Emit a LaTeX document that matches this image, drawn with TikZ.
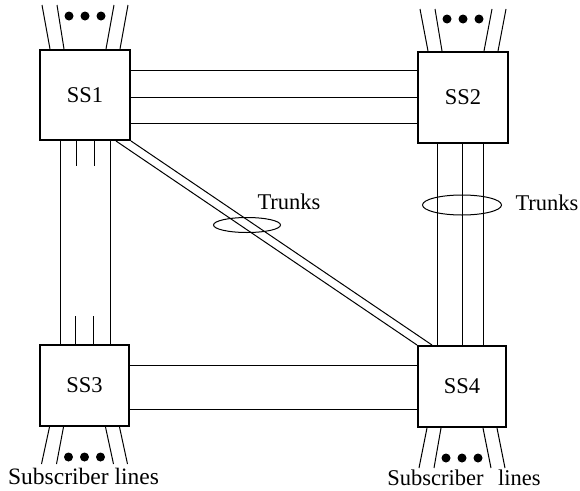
\documentclass[tikz,border=0pt]{standalone}
\usepackage{fontspec}
\setmainfont{Liberation Serif}
\usetikzlibrary{shapes.geometric}

\begin{document}
\begin{tikzpicture}[x=1pt, y=-1pt, line width=1pt,
  every node/.style={font=\fontsize{22.5}{26}\selectfont},
  switch/.style={draw, line width=2pt, inner sep=0pt},
  bundle/.style={draw, ellipse, inner sep=0pt, line width=1pt},
  caption/.style={inner sep=0pt}]
  \useasboundingbox (0,0) rectangle (580,490);
  % switching systems
  \node[switch, minimum width=90pt, minimum height=90pt] (ss1) at (85,95) {SS1};
  \node[switch, minimum width=90pt, minimum height=91pt] (ss2) at (463,97.5) {SS2};
  \node[switch, minimum width=89pt, minimum height=81pt] (ss3) at (84.5,385.5) {SS3};
  \node[switch, minimum width=88pt, minimum height=81pt] (ss4) at (462,386.5) {SS4};

  % trunks between the switches
  \foreach \s in {25,-2,-28}
    \draw ([yshift=\s pt]ss1.east) -- ([yshift=\s pt]ss1.east -| ss2.west);
  \foreach \s in {20.5,-23.5}
    \draw ([yshift=\s pt]ss3.east) -- ([yshift=\s pt]ss3.east -| ss4.west);
  \foreach \s in {-25,25}
    \draw ([xshift=\s pt]ss1.south) -- ([xshift=\s pt]ss1.south |- ss3.north);
  \foreach \s in {-9,9} {
    \draw ([xshift=\s pt]ss1.south) -- ++(0,25);
    \draw ([xshift=\s pt]ss3.north) -- ++(0,-28);
  }
  \foreach \s in {-26,-1,20}
    \draw ([xshift=\s pt]ss2.south) -- ([xshift=\s pt]ss2.south |- ss4.north);
  \draw (ss1.south east) -- ([xshift=15pt]ss4.north west);
  \draw ([xshift=-15pt]ss1.south east) -- (ss4.north west);

  % trunk groups
  \node[bundle, minimum width=67pt, minimum height=15pt] (grp14) at (247,225) {};
  \node[bundle, minimum width=79pt, minimum height=20pt] (grp24) at (462,205) {};
  \node[caption, anchor=west] (lab14) at (257,202) {Trunks};
  \node[caption, anchor=west] (lab24) at (515,203) {Trunks};

  % subscriber lines
  \foreach \a/\t in {-35/-8,-21/-7,21/8,35/8} {
    \draw ([xshift=\a pt]ss1.north) -- ++(\t,-44);
    \draw ([xshift=\a pt]ss2.north) -- ++(\t,-42);
    \draw ([xshift=\a pt]ss3.south) -- ++(\t,37);
    \draw ([xshift=\a pt]ss4.south) -- ++(\t,40);
  }
  \foreach \x in {-16,0,16} {
    \fill ([shift={(\x,-33)}]ss1.north) circle (4.5pt);
    \fill ([shift={(\x,-32)}]ss2.north) circle (4.5pt);
    \fill ([shift={(\x,30)}]ss3.south) circle (4.5pt);
    \fill ([shift={(\x,30)}]ss4.south) circle (4.5pt);
  }
  \node[caption, anchor=base, font=\fontsize{23.5}{26}\selectfont] (sub3) at (83.5,484) {Subscriber lines};
  \node[caption, anchor=base] (sub4) at (464,485) {Subscriber\hspace{0.4em} lines};
\end{tikzpicture}
\end{document}
